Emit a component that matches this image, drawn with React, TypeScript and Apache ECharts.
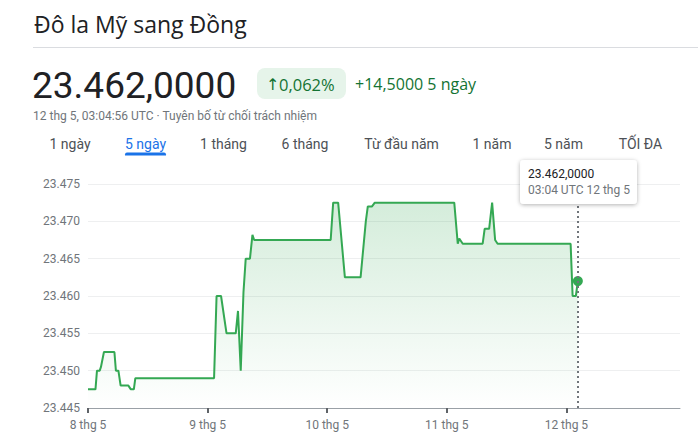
import React, { useEffect, useRef } from "react";
import * as echarts from "echarts";

// hours since 8 thg 5 00:00
const times = [
  0, 1.5, 1.8, 2.35, 2.6, 3.2, 5.3, 5.6, 6.1, 6.55, 8.1, 8.6, 9.2, 9.5,
  25.3, 25.8, 26.7, 27.8, 29.65, 30.1, 30.65, 31.2, 31.65, 32.5, 33.0, 33.35,
  48.7, 49.2, 50.2, 51.55, 54.7, 55.75, 56.15, 57.0, 57.55,
  73.5, 74.2, 74.5, 75.2, 79.2, 79.6, 80.5, 81.1, 81.7, 82.2,
  96.85, 97.25, 97.9, 98.3,
];
const rates = [
  23447.5, 23447.5, 23450, 23450, 23450.5, 23452.5, 23452.5, 23450, 23450, 23448, 23448, 23447.5, 23447.5, 23449,
  23449, 23460, 23460, 23455, 23455, 23458, 23450, 23460.5, 23465, 23465, 23468.2, 23467.5,
  23467.5, 23472.5, 23472.5, 23462.5, 23462.5, 23470, 23472, 23472, 23472.5,
  23472.5, 23467, 23467.7, 23467, 23467, 23469, 23469, 23472.5, 23467.5, 23467,
  23467, 23460, 23460, 23462,
];
const dayTicks = [0, 24, 48, 72, 96];
const dayLabels = ["8 thg 5", "9 thg 5", "10 thg 5", "11 thg 5", "12 thg 5"];
const tabs = ["1 ngày", "5 ngày", "1 tháng", "6 tháng", "Từ đầu năm", "1 năm", "5 năm", "TỐI ĐA"];
const activeTab = 1;

const title = "Đô la Mỹ sang Đồng";
const price = "23.462,0000";
const pct = "0,062%";
const change = "+14,5000 5 ngày";
const subtitle = "12 thg 5, 03:04:56 UTC · Tuyên bố từ chối trách nhiệm";
const tipValue = "23.462,0000";
const tipTime = "03:04 UTC 12 thg 5";

const FONT = "Roboto, 'DejaVu Sans', sans-serif";
const WIDE = "'Open Sans', Roboto, 'DejaVu Sans', sans-serif";

function fmtThousands(v: number) {
  const n = Math.round(v);
  return n.toString().replace(/\B(?=(\d{3})+(?!\d))/g, ".");
}

export default function App() {
  const ref = useRef<HTMLDivElement>(null);
  useEffect(() => {
    if (!ref.current) return;
    const chart = echarts.init(ref.current, null, { renderer: "svg" });
    const data = times.map((t, i) => [t, rates[i]]);
    const last = data[data.length - 1];
    const tabCenters = [70, 145.5, 223.5, 305, 401.5, 492, 563.5, 640.5];
    const graphics: any[] = [
      { type: "text", x: 34, y: 24, style: { text: title, fill: "#202124", fontSize: 23, fontFamily: WIDE, verticalAlign: "middle" } },
      { type: "line", shape: { x1: 33, y1: 47.5, x2: 698, y2: 47.5 }, style: { stroke: "#dadce0", lineWidth: 1 } },
      { type: "text", x: 32, y: 85.5, style: { text: price, fill: "#202124", fontSize: 37, fontFamily: FONT, verticalAlign: "middle" } },
      { type: "rect", shape: { x: 257, y: 68, width: 89, height: 31, r: 8 }, style: { fill: "#e6f4ea" } },
      { type: "text", x: 266, y: 84, style: { text: "↑", fill: "#137333", fontSize: 16, fontFamily: FONT, verticalAlign: "middle" } },
      { type: "text", x: 279, y: 84, style: { text: pct, fill: "#137333", fontSize: 16.5, fontFamily: WIDE, fontWeight: 500, verticalAlign: "middle" } },
      { type: "text", x: 355, y: 84, style: { text: change, fill: "#137333", fontSize: 16, fontFamily: WIDE, fontWeight: 500, verticalAlign: "middle" } },
      { type: "text", x: 33, y: 115.5, style: { text: subtitle, fill: "#70757a", fontSize: 12, fontFamily: FONT, verticalAlign: "middle" } },
      ...tabs.map((t, i) => ({
        type: "text",
        x: tabCenters[i],
        y: 143.5,
        style: { text: t, fill: i === activeTab ? "#1a73e8" : "#4d5156", fontSize: 14, fontFamily: FONT, align: "center", verticalAlign: "middle" },
      })),
      { type: "rect", shape: { x: 125, y: 152.5, width: 41, height: 3, r: [2, 2, 0, 0] }, style: { fill: "#1a73e8" } },
      {
        type: "rect",
        z: 100,
        shape: { x: 520, y: 160, width: 117, height: 44, r: 4 },
        style: { fill: "#fff", shadowBlur: 4, shadowColor: "rgba(0,0,0,0.3)", shadowOffsetY: 1 },
      },
      { type: "text", z: 101, x: 528, y: 173.5, style: { text: tipValue, fill: "#202124", fontSize: 12, fontFamily: FONT, verticalAlign: "middle" } },
      { type: "text", z: 101, x: 528, y: 189.5, style: { text: tipTime, fill: "#70757a", fontSize: 12, fontFamily: FONT, verticalAlign: "middle" } },
    ];
    chart.setOption({
      animation: false,
      grid: { left: 88, right: 18, top: 184, bottom: 37 },
      xAxis: {
        type: "value",
        min: 0,
        max: 118.8,
        interval: 24,
        axisLine: { show: true, lineStyle: { color: "#9aa0a6", width: 1 } },
        axisTick: { show: true, length: 5, customValues: dayTicks, lineStyle: { color: "#5f6368", width: 2 } },
        axisLabel: {
          customValues: dayTicks,
          margin: 11,
          color: "#70757a",
          fontSize: 12,
          fontFamily: FONT,
          formatter: (v: number) => dayLabels[dayTicks.indexOf(Math.round(v))] ?? "",
        },
        splitLine: { show: false },
      },
      yAxis: {
        type: "value",
        min: 23445,
        max: 23475,
        interval: 5,
        axisLine: { show: false },
        axisTick: { show: false },
        axisLabel: { margin: 8, color: "#70757a", fontSize: 12, fontFamily: FONT, formatter: (v: number) => fmtThousands(v) },
        splitLine: { lineStyle: { color: "#eeeff0", width: 1 } },
      },
      series: [
        {
          type: "line",
          data,
          symbol: "none",
          lineStyle: { color: "#34a853", width: 2 },
          areaStyle: {
            origin: "start",
            color: new echarts.graphic.LinearGradient(0, 0, 0, 1, [
              { offset: 0, color: "rgba(52,168,83,0.3)" },
              { offset: 1, color: "rgba(52,168,83,0)" },
            ]),
          },
          z: 2,
        },
        {
          type: "scatter",
          data: [last],
          symbolSize: 10,
          itemStyle: { color: "#34a853", opacity: 1 },
          z: 4,
          markLine: {
            silent: true,
            symbol: "none",
            label: { show: false },
            lineStyle: { color: "#70757a", type: [2, 3], width: 2 },
            data: [{ xAxis: last[0] }],
          },
        },
      ],
      graphic: graphics,
    });
    return () => chart.dispose();
  }, []);
  return <div ref={ref} style={{ position: "absolute", left: 0, top: 0, width: 698, height: 445 }} />;
}
